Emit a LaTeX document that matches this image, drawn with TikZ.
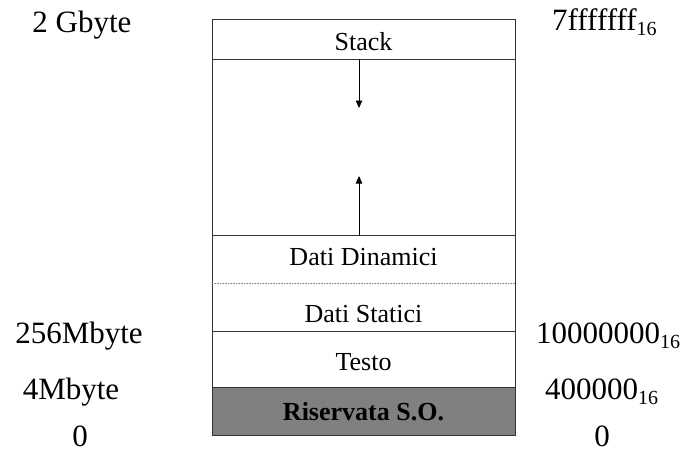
\documentclass[tikz,border=0pt]{standalone}
\usepackage{fontspec}
\setmainfont{Liberation Serif}
\usetikzlibrary{arrows.meta}
\begin{document}
\begin{tikzpicture}[x=1pt,y=-1pt,
  side/.style={anchor=base,inner sep=0pt,font=\fontsize{31}{31}\selectfont},
  lab/.style={anchor=base,inner sep=0pt,font=\fontsize{26}{26}\selectfont},
  sep/.style={line width=0.9pt,draw=black!80},
  growarrow/.style={line width=0.8pt,-{Triangle[length=7.5pt,width=6.5pt]}}]
\useasboundingbox (0,0) rectangle (688,453);
% regions
\fill[black!50] (212,387) rectangle (515,435);
\draw[sep] (212,19) rectangle (515,435);
\draw[sep] (212,59) -- (515,59);
\draw[sep] (212,235) -- (515,235);
\draw[line width=0.6pt,draw=black!45,densely dotted] (212,283) -- (515,283);
\draw[sep] (212,331) -- (515,331);
\draw[sep] (212,387) -- (515,387);
% labels inside
\node[lab] (stack) at (363.5,50) {Stack};
\node[lab] (dyn) at (363.5,265) {Dati Dinamici};
\node[lab] (stat) at (363.5,322) {Dati Statici};
\node[lab] (text) at (363.5,370) {Testo};
\node[lab,font=\fontsize{26}{26}\selectfont\bfseries] (so) at (363.5,420) {Riservata S.O.};
% growth arrows
\coordinate (s0) at (359,59);
\coordinate (s1) at (359,108);
\coordinate (h0) at (359,235);
\coordinate (h1) at (359,176);
\draw[growarrow] (s0) -- (s1);
\draw[growarrow] (h0) -- (h1);
% side labels
\node[side] (g2) at (82,32) {2 Gbyte};
\node[side] (m256) at (79,343) {256Mbyte};
\node[side] (m4) at (71,399) {4Mbyte};
\node[side] (z0) at (80,446) {0};
\newcommand{\hexsub}{\raisebox{-5pt}{\fontsize{20}{20}\selectfont 16}}
\node[side,anchor=base west] (a1) at (552,30) {7fffffff\hexsub};
\node[side,anchor=base west] (a2) at (536,343) {10000000\hexsub};
\node[side,anchor=base west] (a3) at (545,399) {400000\hexsub};
\node[side] (a4) at (602,446) {0};
\end{tikzpicture}
\end{document}
